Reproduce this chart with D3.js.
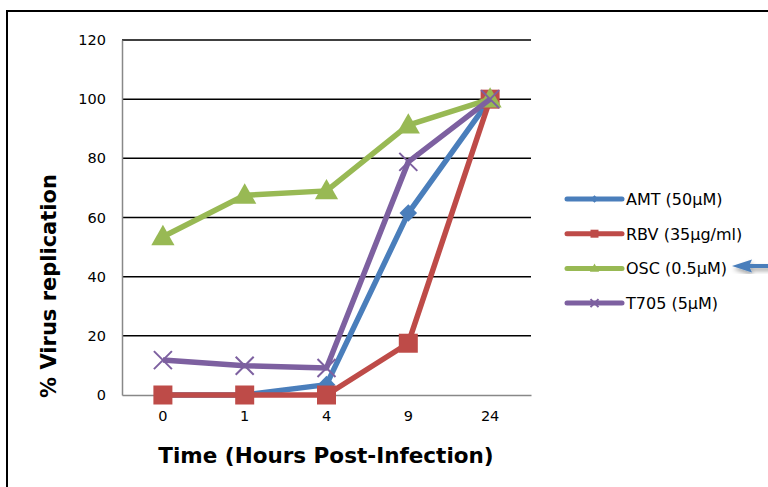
<!DOCTYPE html>
<html>
<head>
<meta charset="utf-8">
<script src="https://cdn.jsdelivr.net/npm/d3@7"></script>
<style>
  html, body { margin: 0; padding: 0; background: #fff; }
  svg { display: block; }
</style>
</head>
<body>
<svg id="chart" width="768" height="487"></svg>
<script>
// Time points (hours post-infection) and y-axis ticks
const hours = ["0", "1", "4", "9", "24"];
const yTicks = [0, 20, 40, 60, 80, 100, 120];

// % virus replication per treatment
const amt  = [0, 0, 3.5, 61.5, 100];
const rbv  = [0, 0, 0, 17.5, 100];
const osc  = [53.5, 67.5, 69, 91.2, 100];
const t705 = [11.8, 9.9, 9.1, 78.8, 100];

const seriesNames = ["AMT (50µM)", "RBV (35µg/ml)", "OSC (0.5µM)", "T705 (5µM)"];
const seriesColors = ["#4A7EBB", "#BE4B48", "#98B954", "#7D60A0"];
const seriesMarkers = ["diamond", "square", "triangle", "cross"];
const seriesValues = [amt, rbv, osc, t705];

const svg = d3.select("#chart");
const font = "'DejaVu Sans', Verdana, sans-serif";

// Outer frame
svg.append("rect")
  .attr("x", 7).attr("y", 11)
  .attr("width", 800).attr("height", 520)
  .attr("fill", "none").attr("stroke", "#000").attr("stroke-width", 2);

const plot = { left: 122, right: 531, top: 40, bottom: 395 };

const x = d3.scaleBand().domain(hours).range([plot.left, plot.right]);
const y = d3.scaleLinear().domain([0, 120]).range([plot.bottom, plot.top]);

// Horizontal gridlines
svg.append("g")
  .selectAll("line")
  .data(yTicks.filter(d => d > 0))
  .join("line")
  .attr("x1", plot.left).attr("x2", plot.right)
  .attr("y1", d => y(d)).attr("y2", d => y(d))
  .attr("stroke", "#000").attr("stroke-width", 1.5);

// Y axis
const yAxis = svg.append("g")
  .attr("transform", `translate(${plot.left},0)`)
  .call(d3.axisLeft(y).tickValues(yTicks).tickSize(0).tickPadding(16));
yAxis.select(".domain").attr("stroke", "#888").attr("stroke-width", 1.5);
yAxis.selectAll("text").attr("font-family", font).attr("font-size", 14.5).attr("fill", "#000");

// X axis
const xAxis = svg.append("g")
  .attr("transform", `translate(0,${plot.bottom})`)
  .call(d3.axisBottom(x).tickSize(0).tickPadding(16));
xAxis.select(".domain").attr("stroke", "#888").attr("stroke-width", 1.5);
xAxis.selectAll("text").attr("font-family", font).attr("font-size", 14.5).attr("fill", "#000");

// Axis titles
svg.append("text")
  .attr("x", 326).attr("y", 463)
  .attr("text-anchor", "middle")
  .attr("font-family", font).attr("font-weight", "bold").attr("font-size", 21.5)
  .attr("fill", "#000")
  .text("Time (Hours Post-Infection)");

svg.append("text")
  .attr("transform", "translate(56,286) rotate(-90)")
  .attr("text-anchor", "middle")
  .attr("font-family", font).attr("font-weight", "bold").attr("font-size", 21)
  .attr("fill", "#000")
  .text("% Virus replication");

// Marker shapes
function drawMarker(g, type, color, size) {
  const s = size;
  if (type === "diamond") {
    g.append("path").attr("d", `M0,${-s * 0.55}L${s * 0.55},0L0,${s * 0.55}L${-s * 0.55},0Z`).attr("fill", color);
  } else if (type === "square") {
    g.append("rect").attr("x", -s / 2).attr("y", -s / 2).attr("width", s).attr("height", s).attr("fill", color);
  } else if (type === "triangle") {
    g.append("path").attr("d", `M0,${-s * 0.6}L${s * 0.58},${s * 0.42}L${-s * 0.58},${s * 0.42}Z`).attr("fill", color);
  } else if (type === "cross") {
    const h = s / 2;
    g.append("path").attr("d", `M${-h},${-h}L${h},${h}M${-h},${h}L${h},${-h}`)
      .attr("stroke", color).attr("stroke-width", 2).attr("fill", "none");
  }
}

const markerSize = { diamond: 16, square: 19, triangle: 20, cross: 18 };
const line = d3.line().x((d, i) => x(hours[i]) + x.bandwidth() / 2).y(d => y(d));

seriesValues.forEach((vals, k) => {
  const g = svg.append("g");
  g.append("path")
    .datum(vals)
    .attr("d", line)
    .attr("fill", "none")
    .attr("stroke", seriesColors[k])
    .attr("stroke-width", 5.5)
    .attr("stroke-linejoin", "round");
  vals.forEach((v, i) => {
    const mg = g.append("g")
      .attr("transform", `translate(${x(hours[i]) + x.bandwidth() / 2},${y(v)})`);
    drawMarker(mg, seriesMarkers[k], seriesColors[k], markerSize[seriesMarkers[k]]);
  });
});

// Legend
const legend = svg.append("g").attr("transform", "translate(567,199)");
seriesNames.forEach((name, k) => {
  const row = legend.append("g").attr("transform", `translate(0,${k * 34.7})`);
  row.append("line").attr("x1", 0).attr("x2", 55).attr("y1", 0).attr("y2", 0)
    .attr("stroke", seriesColors[k]).attr("stroke-width", 5).attr("stroke-linecap", "round");
  const mg = row.append("g").attr("transform", "translate(27.5,0)");
  const small = { diamond: 7, square: 8, triangle: 8, cross: 8 };
  drawMarker(mg, seriesMarkers[k], seriesColors[k], small[seriesMarkers[k]]);
  row.append("text").attr("x", 59).attr("y", 6)
    .attr("font-family", font).attr("font-size", 16).attr("fill", "#000")
    .text(name);
});

// Pointer arrow highlighting the OSC entry
const defs = svg.append("defs");
defs.append("filter").attr("id", "shadow")
  .append("feDropShadow").attr("dx", 1).attr("dy", 3).attr("stdDeviation", 2)
  .attr("flood-color", "#000").attr("flood-opacity", 0.35);
svg.append("path")
  .attr("d", "M732,266 L752,259.5 L750,264 L772,264 L772,268 L750,268 L752,272.5 Z")
  .attr("fill", "#4A7EBB")
  .attr("filter", "url(#shadow)");
</script>
</body>
</html>
